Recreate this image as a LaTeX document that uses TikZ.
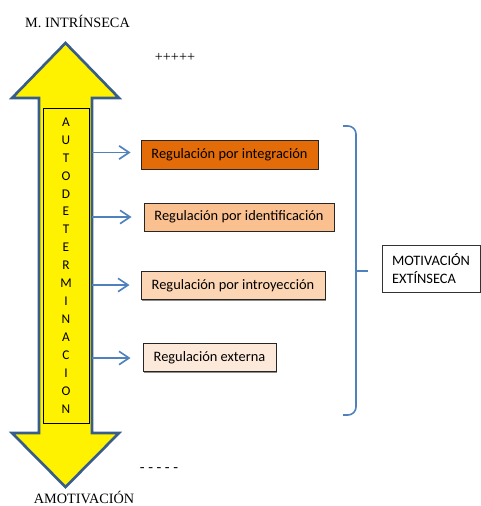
\documentclass[tikz,border=0pt]{standalone}
\usepackage{fontspec}
\setmainfont{Liberation Serif}
\newfontfamily\calfont{Carlito}
\usetikzlibrary{arrows.meta,shadows}
\definecolor{arrowline}{RGB}{56,93,138}
\definecolor{linkblue}{RGB}{79,129,189}
\definecolor{orA}{RGB}{227,108,9}
\definecolor{orB}{RGB}{250,192,143}
\definecolor{orC}{RGB}{252,213,180}
\definecolor{orD}{RGB}{253,233,217}
\begin{document}
\begin{tikzpicture}[x=0.75pt,y=-0.75pt,
  bigarrow/.style={draw=arrowline,line width=2pt,fill=yellow,line join=miter},
  autobox/.style={draw=black,line width=0.6pt,fill=yellow,minimum width=34.5pt,minimum height=236.25pt,inner sep=0pt,align=center,font=\calfont\fontsize{10}{13.45}\selectfont},
  regbox/.style={draw=black!85,line width=0.75pt,minimum height=21pt,inner sep=0pt,font=\calfont\fontsize{10.8}{13}\selectfont,drop shadow={shadow xshift=0.9pt,shadow yshift=-0.9pt,opacity=0.45,fill=black}},
  motbox/.style={draw=black!80,line width=0.75pt,fill=white,minimum height=35.25pt,text width=58.5pt,inner xsep=7.5pt,inner ysep=0pt,align=left,font=\calfont\fontsize{10.8}{13.5}\selectfont},
  serlabel/.style={inner sep=0pt,anchor=base,font=\fontsize{10.7}{13}\selectfont},
  link/.style={draw=linkblue,line width=1.2pt,-{Straight Barb[length=7.5pt,width=10pt,line width=1.2pt]}},
  brace/.style={draw=linkblue,line width=1.2pt}
]
\useasboundingbox (0,0) rectangle (481,506);
% big double arrow
\draw[bigarrow] (65.5,43) -- (119,98) -- (92,98) -- (92,433) -- (119,433) -- (65.5,487)
  -- (12,433) -- (39,433) -- (39,98) -- (12,98) -- cycle;
\node[autobox] (auto) at (66,265.5) {A\\U\\T\\O\\D\\E\\T\\E\\R\\M\\I\\N\\A\\C\\I\\O\\N};
% labels
\node[serlabel] (top) at (77.5,28) {M. INTRÍNSECA};
\node[serlabel] (plus) at (175,62) {+++++};
\node[serlabel] (minus) at (159,471.3) {- - - - -};
\node[serlabel] (bottom) at (84,503.5) {AMOTIVACIÓN};
% regulation boxes
\node[regbox,fill=orA,minimum width=132.75pt] (b1) at (229.5,155) {Regulación por integración};
\node[regbox,fill=orB,minimum width=142.5pt] (b2) at (239,217) {Regulación por identificación};
\node[regbox,fill=orC,minimum width=138pt] (b3) at (233,285.5) {Regulación por introyección};
\node[regbox,fill=orD,minimum width=99.75pt] (b4) at (209.5,357.5) {Regulación externa};
% connectors
\coordinate (s1) at (92,152.5);
\coordinate (s2) at (92,217);
\coordinate (s3) at (92,285);
\coordinate (s4) at (92,358);
\draw[link,shorten >=7.5pt] (s1) -- (s1 -| b1.west);
\draw[link,shorten >=9pt] (s2) -- (s2 -| b2.west);
\draw[link,shorten >=8.25pt] (s3) -- (s3 -| b3.west);
\draw[link,shorten >=9pt] (s4) -- (s4 -| b4.west);
% motivation box
\node[motbox] (mot) at (431,268.5) {MOTIVACIÓN\\EXTÍNSECA};
% brace
\coordinate (bt) at (343,126);
\coordinate (bb) at (343,415);
\coordinate (bm) at (356,271);
\coordinate (btip) at (368,271);
\draw[brace,rounded corners=6pt] (bt) -- (356,126) -- (bm);
\draw[brace,rounded corners=6pt] (bb) -- (356,415) -- (bm);
\draw[brace] (bm) -- (btip);
\end{tikzpicture}
\end{document}
